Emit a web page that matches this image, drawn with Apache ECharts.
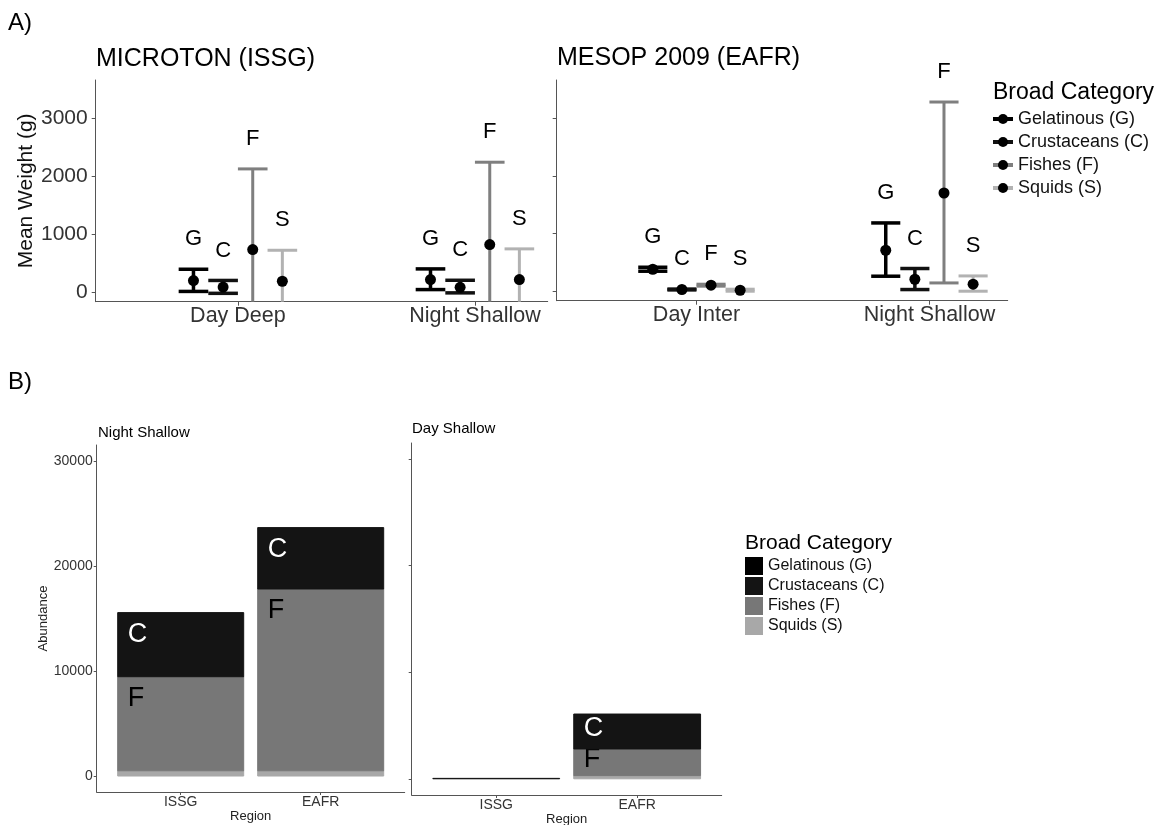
<!DOCTYPE html>
<html>
<head>
<meta charset="utf-8">
<script src="https://cdn.jsdelivr.net/npm/echarts@6/dist/echarts.min.js"></script>
<style>
    html, body { margin: 0; padding: 0; background: #fff; }
    #main { width: 1161px; height: 825px; }
</style>
</head>
<body>
<div id="main"></div>
<script>
    // categories
    var groups = ['Gelatinous (G)', 'Crustaceans (C)', 'Fishes (F)', 'Squids (S)'];
    var letters = ['G', 'C', 'F', 'S'];
    var micTimes = ['Day Deep', 'Night Shallow'];
    var mesTimes = ['Day Inter', 'Night Shallow'];
    var regions = ['ISSG', 'EAFR'];

    // A) mean weight (g), one row per time, columns G, C, F, S
    var micMean = [[196, 84, 733, 184], [213, 80, 820, 213]];
    var micLow = [[8, -25, -660, -350], [40, -17, -600, -320]];
    var micHigh = [[392, 198, 2130, 721], [398, 201, 2246, 745]];
    var mesMean = [[377, 25, 100, 12], [708, 203, 1704, 117]];
    var mesLow = [[343, 18, 83, -5], [256, 24, 139, -5]];
    var mesHigh = [[412, 32, 117, 30], [1183, 390, 3287, 261]];

    // B) abundance, one value per region (ISSG, EAFR)
    var nightSquids = [500, 500];
    var nightFishes = [8950, 17300];
    var nightCrust = [6100, 5840];
    var nightGel = [0, 0];
    var daySquids = [0, 300];
    var dayFishes = [0, 2500];
    var dayCrust = [40, 3275];
    var dayGel = [0, 0];

    var weightTicks = [0, 1000, 2000, 3000];
    var abundTicks = [0, 10000, 20000, 30000];

    var FONT = '"Liberation Sans", Arial, Helvetica, sans-serif';
    var errColors = ['#000000', '#111111', '#7f7f7f', '#b2b2b2'];
    var fillColors = ['#000000', '#141414', '#777777', '#a8a8a8'];
    var dodge = [-0.1875, -0.0625, 0.0625, 0.1875];

    // error bar + point + letter, one series per category and panel
    function errSeries(k, mean, low, high, idx) {
        var data = mean.map(function (row, i) {
            return [i + 1 + dodge[k], row[k], low[i][k], high[i][k]];
        });
        var color = errColors[k];
        var w = k < 2 ? 3.5 : 3;
        return {
            type: 'custom',
            name: groups[k],
            xAxisIndex: idx,
            yAxisIndex: idx,
            itemStyle: { color: color },
            data: data,
            renderItem: function (params, api) {
                var x = api.value(0);
                var pm = api.coord([x, api.value(1)]);
                var pl = api.coord([x, api.value(2)]);
                var ph = api.coord([x, api.value(3)]);
                var cs = params.coordSys;
                var bottom = cs.y + cs.height;
                var half = api.size([0.0625, 0])[0];
                var ly = Math.min(pl[1], bottom);
                var kids = [
                    { type: 'line', shape: { x1: pm[0], y1: ph[1], x2: pm[0], y2: ly }, style: { stroke: color, lineWidth: w } },
                    { type: 'line', shape: { x1: pm[0] - half, y1: ph[1], x2: pm[0] + half, y2: ph[1] }, style: { stroke: color, lineWidth: w } }
                ];
                if (pl[1] <= bottom) {
                    kids.push({ type: 'line', shape: { x1: pm[0] - half, y1: pl[1], x2: pm[0] + half, y2: pl[1] }, style: { stroke: color, lineWidth: w } });
                }
                kids.push({ type: 'circle', shape: { cx: pm[0], cy: pm[1], r: 5.5 }, style: { fill: '#000' } });
                kids.push({
                    type: 'text',
                    style: { text: letters[k], x: pm[0], y: ph[1] - 30, align: 'center', verticalAlign: 'middle', fontSize: 22, fontFamily: FONT, fill: '#000' }
                });
                return { type: 'group', children: kids };
            }
        };
    }

    // stacked bars, bottom to top: squids, fishes, crustaceans, gelatinous
    function stackSeries(layers, idx) {
        var base = regions.map(function () { return 0; });
        var out = [];
        layers.forEach(function (layer) {
            var k = layer[0], vals = layer[1];
            var data = regions.map(function (r, i) {
                var d = [i + 1, base[i], base[i] + vals[i]];
                base[i] += vals[i];
                return d;
            });
            out.push({
                type: 'custom',
                name: groups[k],
                xAxisIndex: idx,
                yAxisIndex: idx,
                itemStyle: { color: fillColors[k] },
                data: data,
                renderItem: function (params, api) {
                    var x = api.value(0), b = api.value(1), t = api.value(2);
                    if (t - b <= 0) return null;
                    var p1 = api.coord([x - 0.45, t]);
                    var p2 = api.coord([x + 0.45, b]);
                    var h = p2[1] - p1[1];
                    var kids = [{
                        type: 'rect',
                        shape: { x: p1[0], y: p1[1], width: p2[0] - p1[0], height: h },
                        style: { fill: fillColors[k], stroke: fillColors[k], lineWidth: 1 }
                    }];
                    if (h > 20) {
                        kids.push({
                            type: 'text',
                            style: {
                                text: letters[k], x: p1[0] + 10, y: p1[1] + Math.min(22, h / 2 - 3),
                                align: 'left', verticalAlign: 'middle', fontSize: 27, fontFamily: FONT,
                                fill: k < 2 ? '#fff' : '#000'
                            }
                        });
                    }
                    return { type: 'group', children: kids };
                }
            });
        });
        return out;
    }

    function keyIcon(c) {
        var svg = '<svg xmlns="http://www.w3.org/2000/svg" width="20" height="14" viewBox="0 0 20 14">' +
            '<line x1="0" y1="7" x2="20" y2="7" stroke="' + c + '" stroke-width="4"/>' +
            '<circle cx="10" cy="7" r="5" fill="#000"/></svg>';
        return 'image://data:image/svg+xml;charset=utf-8,' + encodeURIComponent(svg);
    }

    function catAxis(idx, max, names, fs, margin, tickLen) {
        return {
            gridIndex: idx, type: 'value', min: 0.4, max: max,
            splitLine: { show: false },
            axisLine: { onZero: false, lineStyle: { color: '#555', width: 1 } },
            axisTick: { customValues: [1, 2], length: tickLen, lineStyle: { color: '#555' } },
            axisLabel: {
                customValues: [1, 2], margin: margin, fontSize: fs, color: '#333', fontFamily: FONT,
                formatter: function (v) { return names[Math.round(v) - 1]; }
            }
        };
    }

    function valAxis(idx, min, max, ticks, showLabel, fs, margin, tickLen) {
        return {
            gridIndex: idx, type: 'value', min: min, max: max,
            splitLine: { show: false },
            axisLine: { show: true, onZero: false, lineStyle: { color: '#555', width: 1 } },
            axisTick: { show: true, customValues: ticks, length: tickLen, lineStyle: { color: '#555' } },
            axisLabel: {
                show: showLabel, customValues: ticks, margin: margin, fontSize: fs, color: '#333', fontFamily: FONT,
                formatter: function (v) { return String(v); }
            }
        };
    }

    var myChart = echarts.init(document.getElementById('main'));

    var xAxes = [
        catAxis(0, 2.307, micTimes, 21.5, 3, 4),
        catAxis(1, 2.336, mesTimes, 21.5, 3, 4),
        catAxis(2, 2.6, regions, 14, 3, 3),
        catAxis(3, 2.6, regions, 14, 3, 3)
    ];
    xAxes[2].name = 'Region';
    xAxes[3].name = 'Region';
    [2, 3].forEach(function (i) {
        xAxes[i].nameLocation = 'middle';
        xAxes[i].nameGap = 18;
        xAxes[i].nameTextStyle = { fontSize: 13, color: '#222', fontFamily: FONT };
    });

    var yAxes = [
        valAxis(0, -170, 3670, weightTicks, true, 21, 8, 4),
        valAxis(1, -170, 3670, weightTicks, false, 21, 8, 4),
        valAxis(2, -1520, 31500, abundTicks, true, 14, 4, 3),
        valAxis(3, -1520, 31500, abundTicks, false, 14, 4, 3)
    ];
    yAxes[0].name = 'Mean Weight (g)';
    yAxes[0].nameLocation = 'middle';
    yAxes[0].nameGap = 59;
    yAxes[0].nameTextStyle = { fontSize: 21, color: '#111', fontFamily: FONT };
    yAxes[2].name = 'Abundance';
    yAxes[2].nameLocation = 'middle';
    yAxes[2].nameGap = 43;
    yAxes[2].nameTextStyle = { fontSize: 13, color: '#222', fontFamily: FONT };

    var series = [];
    for (var k = 0; k < 4; k++) series.push(errSeries(k, micMean, micLow, micHigh, 0));
    for (k = 0; k < 4; k++) series.push(errSeries(k, mesMean, mesLow, mesHigh, 1));
    series = series.concat(stackSeries([[3, nightSquids], [2, nightFishes], [1, nightCrust], [0, nightGel]], 2));
    series = series.concat(stackSeries([[3, daySquids], [2, dayFishes], [1, dayCrust], [0, dayGel]], 3));

    function label(text, x, y, fs) {
        return {
            type: 'text', left: x, top: y - fs * 0.6,
            style: { text: text, fontSize: fs, fontFamily: FONT, fill: '#000' }
        };
    }

    var option = {
        animation: false,
        backgroundColor: '#fff',
        textStyle: { fontFamily: FONT },
        grid: [
            { left: 95.7, top: 80, width: 452, height: 221.7, outerBoundsMode: 'none' },
            { left: 556.7, top: 80, width: 451, height: 220.7, outerBoundsMode: 'none' },
            { left: 96.7, top: 445, width: 308, height: 347, outerBoundsMode: 'none' },
            { left: 411.7, top: 443, width: 310, height: 352, outerBoundsMode: 'none' }
        ],
        xAxis: xAxes,
        yAxis: yAxes,
        legend: [
            {
                orient: 'vertical', left: 993, top: 109, padding: 0, itemWidth: 20, itemHeight: 14, itemGap: 3,
                selectedMode: false,
                textStyle: { fontSize: 18, color: '#111', lineHeight: 20, fontFamily: FONT },
                data: groups.map(function (g, i) { return { name: g, icon: keyIcon(errColors[i]) }; })
            },
            {
                orient: 'vertical', left: 745, top: 557, padding: 0, itemWidth: 18, itemHeight: 18, itemGap: 2,
                selectedMode: false,
                textStyle: { fontSize: 16, color: '#111', lineHeight: 18, fontFamily: FONT },
                data: groups.map(function (g, i) { return { name: g, icon: 'rect', itemStyle: { color: fillColors[i] } }; })
            }
        ],
        graphic: [
            label('A)', 8, 26, 24),
            label('B)', 8, 385, 24),
            label('MICROTON (ISSG)', 96, 62, 25),
            label('MESOP 2009 (EAFR)', 557, 61, 25),
            label('Night Shallow', 98, 434, 15),
            label('Day Shallow', 412, 430.5, 15),
            label('Broad Category', 993, 95, 23),
            label('Broad Category', 745, 545, 21)
        ],
        series: series
    };
    myChart.setOption(option);
</script>
</body>
</html>
